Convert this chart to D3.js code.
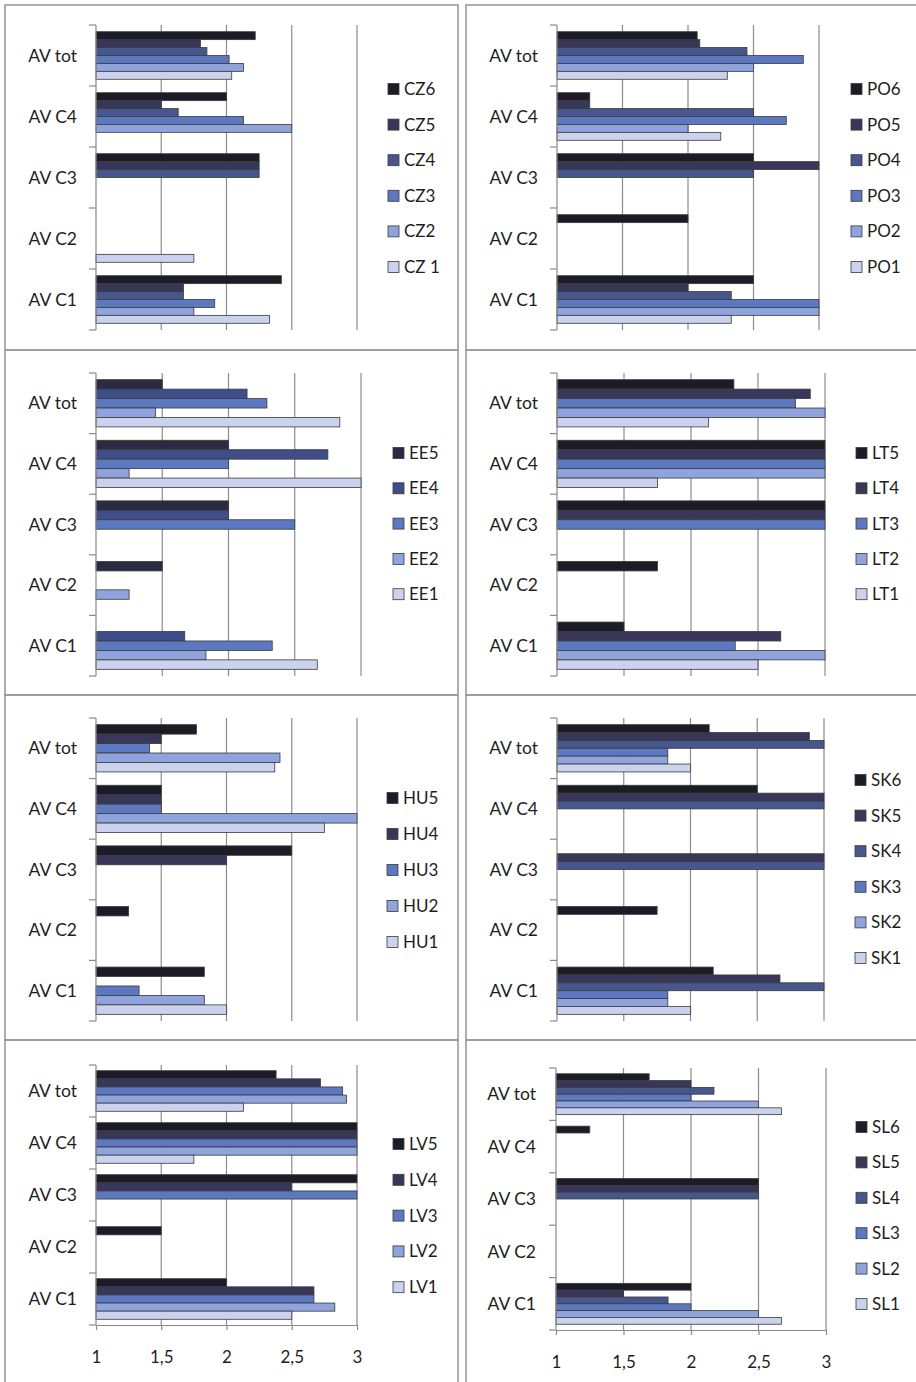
<!DOCTYPE html>
<html>
<head>
<meta charset="utf-8">
<script src="https://cdn.jsdelivr.net/npm/d3@7"></script>
<style>
  html, body { margin: 0; padding: 0; background: #fff; }
  svg { display: block; }
  text { font-family: Lato, "Liberation Sans", sans-serif; fill: #1e1e1e; }
</style>
</head>
<body>
<svg id="chart" width="916" height="1382"></svg>
<script>
// Categories run top to bottom in every panel
const categories = ["AV tot", "AV C4", "AV C3", "AV C2", "AV C1"];
const xTickValues = [1, 1.5, 2, 2.5, 3];
const xTickLabels = ["1", "1,5", "2", "2,5", "3"];

// Each values row follows its series list; columns follow `categories` (null = no bar)
const czSeries = ["CZ6", "CZ5", "CZ4", "CZ3", "CZ2", "CZ 1"];
const czValues = [
  [2.22, 2.0, 2.25, null, 2.42],
  [1.80, 1.5, 2.25, null, 1.67],
  [1.85, 1.63, 2.25, null, 1.67],
  [2.02, 2.13, null, null, 1.91],
  [2.13, 2.5, null, null, 1.75],
  [2.04, null, null, 1.75, 2.33]
];

const poSeries = ["PO6", "PO5", "PO4", "PO3", "PO2", "PO1"];
const poValues = [
  [2.07, 1.25, 2.5, 2.0, 2.5],
  [2.09, 1.25, 3.0, null, 2.0],
  [2.45, 2.5, 2.5, null, 2.33],
  [2.88, 2.75, null, null, 3.0],
  [2.5, 2.0, null, null, 3.0],
  [2.30, 2.25, null, null, 2.33]
];

const eeSeries = ["EE5", "EE4", "EE3", "EE2", "EE1"];
const eeValues = [
  [1.5, 2.0, 2.0, 1.5, null],
  [2.14, 2.75, 2.0, null, 1.67],
  [2.29, 2.0, 2.5, null, 2.33],
  [1.45, 1.25, null, 1.25, 1.83],
  [2.84, 3.0, null, null, 2.67]
];

const ltSeries = ["LT5", "LT4", "LT3", "LT2", "LT1"];
const ltValues = [
  [2.32, 3.0, 3.0, 1.75, 1.5],
  [2.89, 3.0, 3.0, null, 2.67],
  [2.78, 3.0, 3.0, null, 2.33],
  [3.0, 3.0, null, null, 3.0],
  [2.13, 1.75, null, null, 2.5]
];

const huSeries = ["HU5", "HU4", "HU3", "HU2", "HU1"];
const huValues = [
  [1.77, 1.5, 2.5, 1.25, 1.83],
  [1.5, 1.5, 2.0, null, null],
  [1.41, 1.5, null, null, 1.33],
  [2.41, 3.0, null, null, 1.83],
  [2.37, 2.75, null, null, 2.0]
];

const skSeries = ["SK6", "SK5", "SK4", "SK3", "SK2", "SK1"];
const skValues = [
  [2.14, 2.5, null, 1.75, 2.17],
  [2.89, 3.0, 3.0, null, 2.67],
  [3.0, 3.0, 3.0, null, 3.0],
  [1.83, null, null, null, 1.83],
  [1.83, null, null, null, 1.83],
  [2.0, null, null, null, 2.0]
];

const lvSeries = ["LV5", "LV4", "LV3", "LV2", "LV1"];
const lvValues = [
  [2.38, 3.0, 3.0, 1.5, 2.0],
  [2.72, 3.0, 2.5, null, 2.67],
  [2.89, 3.0, 3.0, null, 2.67],
  [2.92, 3.0, null, null, 2.83],
  [2.13, 1.75, null, null, 2.5]
];

const slSeries = ["SL6", "SL5", "SL4", "SL3", "SL2", "SL1"];
const slValues = [
  [1.69, 1.25, 2.5, null, 2.0],
  [2.0, null, 2.5, null, 1.5],
  [2.17, null, 2.5, null, 1.83],
  [2.0, null, null, null, 2.0],
  [2.5, null, null, null, 2.5],
  [2.67, null, null, null, 2.67]
];

// Fill colours, darkest series first
const palette6 = ["#1d1b26", "#38375a", "#46578e", "#5b78c0", "#8fa3dc", "#cbd2ee"];
const palette5 = ["#1d1b26", "#38375a", "#5b78c0", "#8fa3dc", "#cbd2ee"];
const paletteEE = ["#2b2a42", "#3f4e88", "#5b78c0", "#8fa3dc", "#cbd2ee"];

// Panel placement on the page
const panels = [
  { series: czSeries, values: czValues, colors: palette6, left: 96, right: 357, top: 25, bottom: 330,
    labelX: 77, legendX: 388, legendY: 89, legendStep: 35.6, axis: false },
  { series: poSeries, values: poValues, colors: palette6, left: 557, right: 819, top: 25, bottom: 330,
    labelX: 538, legendX: 851, legendY: 89, legendStep: 35.6, axis: false },
  { series: eeSeries, values: eeValues, colors: paletteEE, left: 96, right: 361, top: 373, bottom: 676,
    labelX: 77, legendX: 393, legendY: 453, legendStep: 35.3, axis: false },
  { series: ltSeries, values: ltValues, colors: palette5, left: 557, right: 825, top: 373, bottom: 676,
    labelX: 538, legendX: 856, legendY: 453, legendStep: 35.3, axis: false },
  { series: huSeries, values: huValues, colors: palette5, left: 96, right: 357, top: 718, bottom: 1021,
    labelX: 77, legendX: 387, legendY: 798, legendStep: 36, axis: false },
  { series: skSeries, values: skValues, colors: palette6, left: 557, right: 824, top: 718, bottom: 1021,
    labelX: 538, legendX: 855, legendY: 780, legendStep: 35.6, axis: false },
  { series: lvSeries, values: lvValues, colors: palette5, left: 96, right: 357, top: 1065, bottom: 1325,
    labelX: 77, legendX: 393, legendY: 1144, legendStep: 35.8, axis: true },
  { series: slSeries, values: slValues, colors: palette6, left: 556, right: 826, top: 1068, bottom: 1330,
    labelX: 536, legendX: 856, legendY: 1127, legendStep: 35.4, axis: true }
];

const svg = d3.select("#chart");

// Cell frames: two columns, four rows
const frameColor = "#9a9a9a";
const rowEdges = [5, 350, 695, 1040, 1395];
const columns = [[5, 458], [466, 925]];
const frame = svg.append("g").attr("fill", "none").attr("stroke", frameColor).attr("stroke-width", 1.6);
columns.forEach(([x0, x1]) => {
  for (let r = 0; r < 4; r++) {
    frame.append("rect")
      .attr("x", x0).attr("y", rowEdges[r])
      .attr("width", x1 - x0).attr("height", rowEdges[r + 1] - rowEdges[r]);
  }
});

function drawPanel(p) {
  const g = svg.append("g");
  const x = d3.scaleLinear().domain([1, 3]).range([p.left, p.right]);
  const y = d3.scaleBand().domain(categories).range([p.top, p.bottom])
    .paddingInner(0.22).paddingOuter(0.11);
  const ys = d3.scaleBand().domain(p.series).range([0, y.bandwidth()]);

  // vertical gridlines
  g.append("g").selectAll("line").data(xTickValues.slice(1)).join("line")
    .attr("x1", d => x(d)).attr("x2", d => x(d))
    .attr("y1", p.top).attr("y2", p.bottom)
    .attr("stroke", "#8c8c8c").attr("stroke-width", 1.2);

  // bars
  const rows = [];
  p.series.forEach((s, i) => categories.forEach((c, j) => {
    const v = p.values[i][j];
    if (v != null) rows.push({ s, c, v, i });
  }));
  g.append("g").selectAll("rect").data(rows).join("rect")
    .attr("x", x(1))
    .attr("y", d => y(d.c) + ys(d.s))
    .attr("width", d => x(d.v) - x(1))
    .attr("height", ys.bandwidth())
    .attr("fill", d => p.colors[d.i])
    .attr("stroke", "#3a3a3a").attr("stroke-width", 0.8);

  // category axis with ticks between categories
  const axisColor = "#8a8a8a";
  g.append("line")
    .attr("x1", x(1)).attr("x2", x(1)).attr("y1", p.top).attr("y2", p.bottom)
    .attr("stroke", axisColor).attr("stroke-width", 1.2);
  const edges = d3.range(categories.length + 1).map(k => p.top + k * y.step());
  g.append("g").selectAll("line").data(edges).join("line")
    .attr("x1", x(1) - 7).attr("x2", x(1))
    .attr("y1", d => d).attr("y2", d => d)
    .attr("stroke", axisColor).attr("stroke-width", 1.2);

  g.append("g").selectAll("text").data(categories).join("text")
    .attr("x", p.labelX)
    .attr("y", d => y(d) + y.bandwidth() / 2)
    .attr("dy", "0.35em")
    .attr("text-anchor", "end")
    .attr("font-size", 17.5)
    .text(d => d);

  // value axis on the bottom row
  if (p.axis) {
    const ax = g.append("g")
      .attr("transform", `translate(0,${p.bottom})`)
      .call(d3.axisBottom(x).tickValues(xTickValues)
        .tickFormat((d, i) => xTickLabels[i])
        .tickSize(5).tickSizeOuter(0).tickPadding(21));
    ax.select(".domain").attr("stroke", axisColor).attr("stroke-width", 1.2);
    ax.selectAll(".tick line").attr("stroke", axisColor).attr("stroke-width", 1.2);
    ax.selectAll(".tick text")
      .attr("font-family", "Lato, 'Liberation Sans', sans-serif")
      .attr("font-size", 17).attr("fill", "#1e1e1e");
  }

  // legend
  const lg = g.append("g").selectAll("g").data(p.series).join("g")
    .attr("transform", (d, i) => `translate(${p.legendX},${p.legendY + i * p.legendStep})`);
  lg.append("rect")
    .attr("x", 0).attr("y", -5.5).attr("width", 11).attr("height", 11)
    .attr("fill", (d, i) => p.colors[i])
    .attr("stroke", "#3a3a3a").attr("stroke-width", 0.8);
  lg.append("text")
    .attr("x", 16).attr("y", 0).attr("dy", "0.35em")
    .attr("font-size", 17)
    .text(d => d);
}

panels.forEach(drawPanel);
</script>
</body>
</html>
